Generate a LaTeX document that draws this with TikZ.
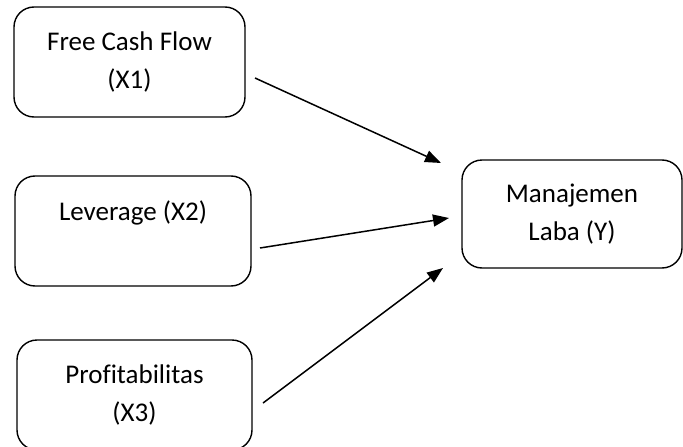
\documentclass[tikz,border=0pt]{standalone}
\usepackage{fontspec}
\setmainfont{Carlito}[Ligatures=NoCommon]
\usepackage{tikz}
\usetikzlibrary{arrows.meta}

\begin{document}
\begin{tikzpicture}[x=1pt, y=-1pt,
    varbox/.style={draw, line width=1.4pt, rounded corners=20pt, inner sep=0pt, align=center,
        font=\fontsize{27}{38}\selectfont},
    flow/.style={-{Triangle[length=16pt, width=12pt]}, line width=1.5pt}]
        \useasboundingbox (0,0) rectangle (683,447);

        % Variabel bebas
        \node[varbox, minimum width=231pt, minimum height=110pt] (fcf) at (129.5,62) {Free Cash Flow\\(X1)};
        \node[varbox, minimum width=236pt, minimum height=110pt] (lev) at (133,231) {Leverage (X2)\\\phantom{(X2)}};
        \node[varbox, minimum width=235pt, minimum height=110pt] (prof) at (134.5,395) {Profitabilitas\\(X3)};

        % Variabel terikat
        \node[varbox, minimum width=220pt, minimum height=108pt] (ml) at (572,214) {Manajemen\\Laba (Y)};

        % Titik awal dan akhir panah
        \coordinate (s1) at (255,78);
        \coordinate (e1) at (441,163);
        \coordinate (s2) at (260,248);
        \coordinate (e2) at (449,218);
        \coordinate (s3) at (263,403);
        \coordinate (e3) at (443,268);

        \draw[flow] (s1) -- (e1);
        \draw[flow] (s2) -- (e2);
        \draw[flow] (s3) -- (e3);
    \end{tikzpicture}
\end{document}
